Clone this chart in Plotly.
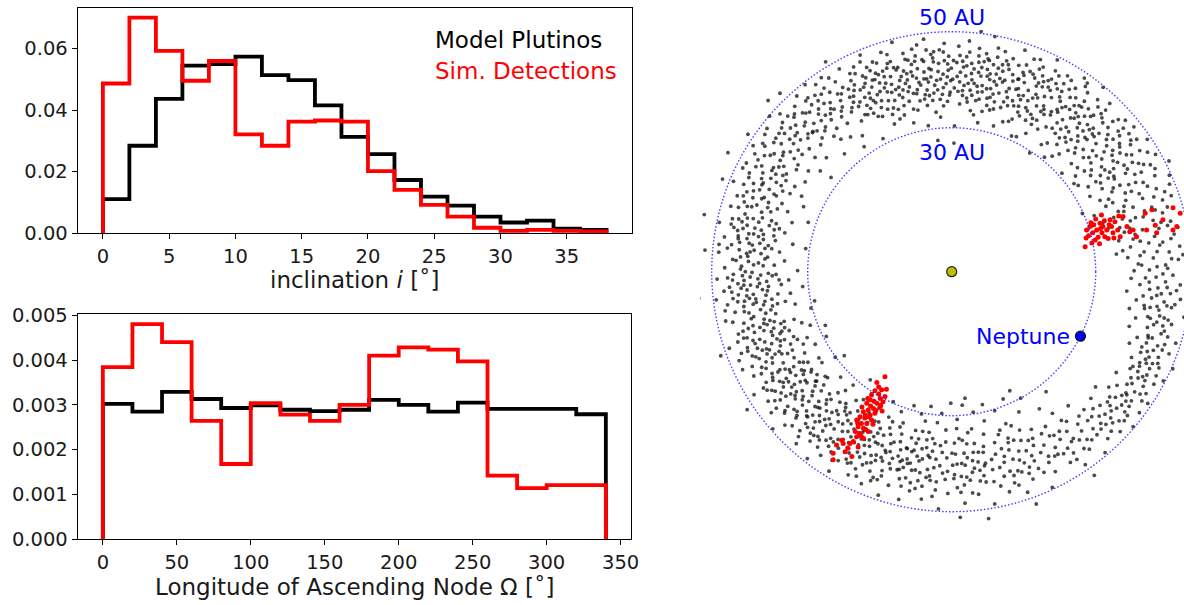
import numpy as np
import plotly.graph_objects as go

# ---------------- data ----------------
INC_BIN_EDGES = list(range(0, 39, 2))  # degrees
INC_MODEL = [0.0111, 0.0284, 0.0436, 0.0544, 0.0549, 0.0573, 0.0513, 0.0497, 0.0415,
             0.0313, 0.0257, 0.0173, 0.0119, 0.0090, 0.0054, 0.0035, 0.0041, 0.0015, 0.0011]
INC_DETECT = [0.0486, 0.0700, 0.0592, 0.0495, 0.0559, 0.0321, 0.0284, 0.0362, 0.0366,
              0.0362, 0.0202, 0.0141, 0.0092, 0.0054, 0.0018, 0.0008, 0.0011, 0.0008, 0.0006]

NODE_BIN_EDGES = list(range(0, 341, 20))  # degrees
NODE_MODEL = [0.00302, 0.00285, 0.00329, 0.00313, 0.00293, 0.00299, 0.00289, 0.00286, 0.00289,
              0.00311, 0.00300, 0.00285, 0.00305, 0.00291, 0.00291, 0.00291, 0.00279]
NODE_DETECT = [0.00384, 0.00480, 0.00440, 0.00264, 0.00168, 0.00304, 0.00278, 0.00264, 0.00300,
               0.00410, 0.00428, 0.00423, 0.00397, 0.00142, 0.00114, 0.00121, 0.00121]

INC_TICKS = [0, 5, 10, 15, 20, 25, 30, 35]
INC_YTICKS = [0.00, 0.02, 0.04, 0.06]
NODE_TICKS = [0, 50, 100, 150, 200, 250, 300, 350]
NODE_YTICKS = [0.000, 0.001, 0.002, 0.003, 0.004, 0.005]

# model plutinos, heliocentric (theta [deg], r [AU]) in Neptune's rotating frame
PLUTINO_POS = [
    (0.5,41.2),(1.8,44.6),(2.4,38.9),(3.1,47.3),(3.9,42.1),(4.6,36.8),(5.2,45.5),(5.9,40.3),(6.7,49.1),(7.3,43.7),(7.9,37.6),(8.6,46.2),
    (9.2,39.8),(9.9,42.9),(10.5,35.4),(11.1,48.0),(11.8,44.1),(12.4,40.7),(13.0,46.8),(13.7,38.2),(14.3,43.3),(2.9,50.2),(6.1,34.5),(12.9,36.9),
    (15.4,33.8),(16.0,41.5),(16.7,46.9),(17.2,37.2),(17.9,43.8),(18.5,35.6),(19.1,48.4),(19.6,40.1),(20.3,44.9),(20.8,38.4),(21.5,31.9),(22.1,46.0),
    (22.6,42.3),(23.2,36.5),(23.9,49.6),(24.4,39.7),(25.0,44.0),(25.7,34.3),(26.2,41.1),(26.9,47.5),(27.4,37.9),(28.0,43.2),(28.6,32.8),(29.2,45.8),
    (29.7,39.0),(18.0,30.6),(24.0,29.8),(27.0,50.8),
    (30.3,42.4),(30.8,36.1),(31.4,47.8),(31.9,33.5),(32.5,40.0),(33.0,44.7),(33.6,38.3),(34.1,49.2),(34.7,35.2),(35.2,42.9),(35.8,31.4),(36.3,46.3),
    (36.9,39.1),(37.4,44.0),(38.0,36.8),(38.5,48.5),(39.1,41.6),(39.6,34.0),(40.2,45.4),(40.7,38.7),(41.3,43.3),(41.8,30.8),(42.4,47.0),(42.9,37.4),
    (43.5,40.9),(44.0,35.6),(44.6,44.2),(32.2,38.9),(36.0,41.3),(39.9,46.6),(43.2,42.1),(37.7,32.6),
    (45.2,39.4),(45.7,44.8),(46.2,35.0),(46.8,48.1),(47.3,41.7),(47.9,37.1),(48.4,45.9),(49.0,31.9),(49.5,42.6),(50.1,38.0),(50.6,49.7),(51.2,35.8),
    (51.7,43.7),(52.3,40.5),(52.8,46.8),(53.4,33.4),(53.9,39.2),(54.5,44.5),(55.0,36.5),(55.6,48.9),(56.1,41.2),(56.7,29.6),(57.2,45.2),(57.8,38.6),
    (58.3,42.8),(58.9,34.7),(59.4,47.4),(47.0,40.1),(49.8,36.6),(52.0,42.0),(54.2,47.6),(56.4,39.9),(58.6,44.0),(51.0,30.7),
    (60.2,41.8),(60.7,36.2),(61.3,46.5),(61.8,32.7),(62.4,43.4),(62.9,38.8),(63.5,49.3),(64.0,35.1),(64.6,40.9),(65.1,45.0),(65.7,37.5),(66.2,30.9),
    (66.8,43.9),(67.3,47.9),(67.9,39.6),(68.4,34.2),(69.0,42.2),(69.5,36.9),(70.1,45.8),(70.6,40.3),(71.2,33.0),(71.7,48.6),(72.3,38.1),(72.8,43.0),
    (73.4,35.7),(73.9,46.2),(74.5,41.4),(61.0,39.5),(63.2,44.6),(65.5,42.5),(68.0,37.2),(70.3,44.1),(72.6,40.0),(74.0,31.6),
    (75.2,38.5),(75.7,43.1),(76.3,47.2),(76.8,34.6),(77.4,40.6),(77.9,45.7),(78.5,36.9),(79.0,42.0),(79.6,49.8),(80.1,31.5),(80.7,39.3),(81.2,44.3),
    (81.8,37.8),(82.3,41.9),(82.9,46.9),(83.4,33.8),(84.0,40.2),(84.5,43.6),(85.1,36.3),(85.6,48.2),(86.2,38.9),(86.7,42.7),(87.3,35.0),(87.8,45.1),
    (88.4,40.7),(88.9,30.4),(89.5,44.0),(76.0,41.5),(78.0,39.0),(80.0,42.8),(82.0,36.0),(84.2,38.0),(86.0,44.9),(88.0,37.6),(89.0,26.8),(83.0,50.4),
    (90.3,39.8),(90.8,44.9),(91.4,35.5),(91.9,47.6),(92.5,41.2),(93.0,37.0),(93.6,43.5),(94.1,32.3),(94.7,46.0),(95.2,39.0),(95.8,42.3),(96.3,35.9),
    (96.9,48.8),(97.4,40.5),(98.0,44.6),(98.5,37.3),(99.1,30.8),(99.6,42.9),(100.2,47.1),(100.7,38.6),(101.3,41.6),(101.8,34.4),(102.4,45.3),(102.9,39.5),
    (103.5,43.0),(104.0,36.6),(104.6,49.4),(91.0,42.0),(93.3,40.2),(95.5,45.5),(97.7,38.2),(99.8,40.0),(101.0,44.0),(103.0,41.0),(96.0,27.5),(104.3,32.0),
    (105.2,41.3),(105.7,37.7),(106.3,45.6),(106.8,34.1),(107.4,42.6),(107.9,48.0),(108.5,39.4),(109.0,44.2),(109.6,36.2),(110.1,40.8),(110.7,46.7),(111.2,33.0),
    (111.8,43.1),(112.3,38.5),(112.9,49.0),(113.4,41.9),(114.0,35.4),(114.5,44.8),(115.1,39.9),(115.6,47.3),(116.2,36.8),(116.7,42.4),(117.3,31.2),(117.8,45.0),
    (118.4,40.2),(118.9,37.4),(119.5,43.7),(106.0,40.0),(108.2,35.6),(110.4,43.8),(112.6,46.1),(114.8,41.0),(117.0,38.9),(119.0,48.3),
    (120.3,42.1),(120.9,36.6),(121.5,46.4),(122.1,39.3),(122.7,44.0),(123.3,33.9),(123.9,48.7),(124.5,40.6),(125.1,37.8),(125.7,43.4),(126.3,45.9),(126.9,35.1),
    (127.5,41.5),(128.1,49.5),(128.7,38.3),(129.3,43.8),(129.9,36.0),(130.5,46.8),(131.1,40.0),(131.7,44.5),(132.3,33.2),(132.9,42.2),(133.5,47.5),(134.1,38.8),
    (134.7,41.1),(121.0,51.0),(125.0,31.8),(128.0,45.2),(131.0,37.4),(133.9,51.6),
    (135.3,43.2),(135.9,38.0),(136.5,47.1),(137.1,40.9),(137.7,35.3),(138.3,45.0),(138.9,41.8),(139.5,49.9),(140.1,37.1),(140.7,43.6),(141.3,46.1),(141.9,39.6),
    (142.5,34.5),(143.1,44.4),(143.7,48.3),(144.3,40.4),(144.9,36.5),(145.5,42.7),(146.1,46.9),(146.7,38.7),(147.3,44.9),(147.9,41.3),(148.5,35.8),(149.1,47.8),
    (149.7,43.0),(137.0,52.3),(142.0,31.9),(146.0,51.2),
    (150.3,40.5),(150.9,45.3),(151.5,37.2),(152.1,48.4),(152.7,42.4),(153.3,35.0),(153.9,44.1),(154.5,39.0),(155.1,46.6),(155.7,41.7),(156.3,33.7),(156.9,43.5),
    (157.5,49.2),(158.1,38.1),(158.7,45.8),(159.3,40.8),(159.9,36.4),(160.5,47.4),(161.1,42.9),(161.7,39.7),(162.3,44.7),(162.9,34.8),(163.5,48.0),(164.1,41.0),
    (164.7,37.9),(152.0,52.8),(158.0,51.5),(161.0,31.6),
    (165.3,44.0),(165.8,39.2),(166.4,47.0),(166.9,35.7),(167.5,42.0),(168.0,49.5),(168.6,37.8),(169.1,45.4),(169.7,40.9),(170.2,33.6),(170.8,43.2),(171.3,47.9),
    (171.9,38.6),(172.4,41.9),(173.0,46.2),(173.5,36.1),(174.1,44.5),(174.6,39.9),(175.2,48.7),(175.7,42.6),(176.3,34.9),(176.8,45.7),(177.4,40.3),(177.9,37.0),
    (178.5,43.8),(179.0,47.3),(179.6,32.1),(167.0,52.9),(171.0,30.8),(175.0,51.6),(168.3,44.4),(173.8,41.4),
    (180.2,41.6),(180.7,45.5),(181.3,37.4),(181.8,48.9),(182.4,43.3),(182.9,34.0),(183.5,40.1),(184.0,46.4),(184.6,38.3),(185.1,42.8),(185.7,31.2),(186.2,44.7),
    (186.8,49.4),(187.3,36.5),(187.9,41.2),(188.4,47.2),(189.0,39.4),(189.5,43.9),(190.1,35.2),(190.6,45.9),(191.2,40.6),(191.7,33.3),(192.3,48.2),(192.8,42.3),
    (193.4,37.7),(193.9,44.6),(194.5,30.3),(181.0,39.8),(184.5,44.0),(187.5,42.5),(190.8,38.0),(193.0,46.8),(186.0,53.0),(192.0,29.2),
    (195.2,42.9),(195.7,38.4),(196.3,46.3),(196.8,34.3),(197.4,41.0),(197.9,44.8),(198.5,36.7),(199.0,49.0),(199.6,39.6),(200.1,43.6),(200.7,31.5),(201.2,47.0),
    (201.8,40.4),(202.3,35.6),(202.9,45.1),(203.4,38.9),(204.0,42.1),(204.5,33.1),(205.1,48.1),(205.6,41.5),(206.2,37.0),(206.7,44.3),(207.3,29.4),(207.8,46.6),
    (208.4,39.9),(208.9,35.0),(209.5,43.0),(196.0,40.0),(199.3,37.5),(202.5,42.7),(205.8,39.3),(208.0,32.2),(203.0,28.6),(200.0,51.2),
    (210.3,40.2),(210.8,45.0),(211.4,36.2),(211.9,48.5),(212.5,42.5),(213.0,33.0),(213.6,39.0),(214.1,44.4),(214.7,37.6),(215.2,46.8),(215.8,41.1),(216.3,30.1),
    (216.9,43.2),(217.4,35.3),(218.0,47.7),(218.5,39.8),(219.1,42.0),(219.6,34.2),(220.2,45.6),(220.7,38.2),(221.3,49.6),(221.8,41.7),(222.4,36.8),(222.9,44.0),
    (223.5,31.9),(224.0,46.2),(224.6,40.0),(211.0,38.4),(213.3,42.0),(215.5,36.0),(217.7,40.9),(219.9,37.1),(222.1,43.4),(224.3,38.7),(218.0,28.4),(214.0,51.4),
    (225.2,42.6),(225.7,37.3),(226.3,45.8),(226.8,34.6),(227.4,40.7),(227.9,48.3),(228.5,43.5),(229.0,31.3),(229.6,38.5),(230.1,46.0),(230.7,41.4),(231.2,35.2),
    (231.8,44.6),(232.3,49.2),(232.9,39.2),(233.4,33.4),(234.0,42.9),(234.5,47.0),(235.1,37.8),(235.6,40.3),(236.2,45.2),(236.7,30.4),(237.3,43.7),(237.8,36.4),
    (238.4,48.8),(238.9,41.6),(239.5,34.0),(226.0,39.5),(228.8,44.7),(231.5,38.0),(234.2,36.2),(237.0,39.7),(239.0,45.9),(233.0,28.2),
    (240.3,41.0),(240.8,36.0),(241.4,45.4),(241.9,32.2),(242.5,39.4),(243.0,47.5),(243.6,43.1),(244.1,34.8),(244.7,38.0),(245.2,44.3),(245.8,29.7),(246.3,41.8),
    (246.9,48.0),(247.4,36.9),(248.0,42.4),(248.5,33.6),(249.1,45.9),(249.6,39.7),(250.2,31.0),(250.7,43.9),(251.3,37.5),(251.8,49.0),(252.4,40.8),(252.9,35.4),
    (253.5,46.4),(254.0,38.6),(254.6,42.8),(241.0,38.2),(243.3,40.5),(245.5,35.9),(247.7,44.9),(250.0,40.1),(252.2,33.1),(254.3,29.0),
    (255.3,40.6),(255.8,44.5),(256.4,35.6),(256.9,48.7),(257.5,38.4),(258.0,30.3),(258.6,42.2),(259.1,46.5),(259.7,33.8),(260.2,40.0),(260.8,44.1),(261.3,28.4),
    (261.9,37.0),(262.4,47.8),(263.0,41.5),(263.5,35.0),(264.1,43.7),(264.6,31.6),(265.2,39.2),(265.7,45.6),(266.3,36.3),(266.8,49.5),(267.4,42.0),(267.9,33.0),
    (268.5,38.8),(269.0,46.2),(269.6,27.4),(257.0,41.0),(260.5,37.4),(263.3,39.0),(266.0,29.6),(268.2,43.3),
    (270.3,40.3),(270.9,35.7),(271.5,45.0),(272.1,30.8),(272.7,42.7),(273.3,48.3),(273.9,37.9),(274.5,27.9),(275.1,43.6),(275.7,33.7),(276.3,39.6),(276.9,46.7),
    (277.5,36.1),(278.1,41.8),(278.7,29.6),(279.3,44.4),(279.9,38.2),(280.5,49.2),(281.1,34.5),(281.7,42.1),(282.3,31.8),(282.9,45.8),(283.5,39.1),(284.1,36.7),
    (284.7,47.4),(272.0,51.2),(276.0,26.5),(280.0,40.5),(283.0,28.4),(278.5,52.0),
    (285.4,41.2),(286.0,35.3),(286.6,45.9),(287.2,30.3),(287.8,39.0),(288.4,43.7),(289.0,48.6),(289.6,33.6),(290.2,37.4),(290.8,42.6),(291.4,46.4),(292.0,28.6),
    (292.6,40.4),(293.2,35.9),(293.8,44.8),(294.4,38.6),(295.0,49.6),(295.6,32.4),(296.2,42.0),(296.8,36.8),(297.4,46.9),(298.0,40.9),(298.6,30.0),(299.2,44.0),
    (290.0,51.5),(296.0,27.6),
    (300.5,42.5),(301.2,37.7),(301.9,46.8),(302.6,33.9),(303.3,44.0),(304.0,40.1),(304.7,48.9),(305.4,36.2),(306.1,43.0),(306.8,46.0),(307.5,39.3),(308.2,31.8),
    (308.9,44.9),(309.6,41.2),(310.3,49.4),(311.0,37.0),(311.7,45.5),(312.4,42.0),(313.1,47.6),(313.8,39.8),(314.5,44.3),(305.0,51.8),
    (315.3,45.2),(315.9,41.0),(316.5,48.4),(317.1,43.6),(317.7,39.2),(318.3,46.7),(318.9,44.1),(319.5,49.7),(320.1,42.3),(320.7,47.3),(321.3,38.4),(321.9,45.0),
    (322.5,43.0),(323.1,48.9),(323.7,40.6),(324.3,46.1),(324.9,44.6),(325.5,41.8),(326.1,49.2),(326.7,45.6),(327.3,43.4),(327.9,47.8),(328.5,40.2),(329.1,46.5),
    (330.3,44.7),(330.9,48.2),(331.5,42.3),(332.1,46.0),(332.7,49.6),(333.3,43.8),(333.9,45.9),(334.5,41.5),(335.1,47.6),(335.7,44.3),(336.3,50.3),(336.9,42.8),
    (337.5,46.6),(338.1,39.9),(338.7,45.1),(339.3,48.4),(339.9,43.2),(340.5,41.0),(341.1,46.9),(341.7,44.0),(342.3,49.0),(342.9,38.7),(343.5,45.5),(344.1,42.4),
    (345.3,43.5),(345.9,39.5),(346.5,47.1),(347.1,41.9),(347.7,45.3),(348.3,37.8),(348.9,49.3),(349.5,43.9),(350.1,40.7),(350.7,46.4),(351.3,38.9),(351.9,44.7),
    (352.5,42.0),(353.1,48.0),(353.7,36.7),(354.3,45.8),(354.9,41.4),(355.5,43.1),(356.1,39.3),(356.7,47.7),(357.3,44.6),(357.9,37.4),(358.5,42.6),(359.1,46.1),
    # second pass over the denser parts of the ring
    (0.9,45.0),(2.0,39.6),(4.2,48.3),(5.6,43.0),(7.0,35.9),(8.3,41.5),(9.6,47.0),(11.5,39.0),(13.3,44.8),(14.7,36.2),
    (15.9,38.7),(16.9,44.3),(17.7,33.0),(18.8,46.4),(19.9,36.9),(21.0,42.6),(21.9,48.9),(23.0,34.9),(24.1,41.0),(25.3,46.8),(26.5,37.3),(27.7,44.6),
    (28.9,35.8),(29.9,49.0),
    (30.5,39.2),(31.2,44.0),(32.0,35.4),(32.8,46.6),(33.4,41.4),(34.3,31.9),(35.0,38.1),(35.6,47.4),(36.6,43.6),(37.2,34.7),(38.2,40.4),(39.0,45.0),
    (39.8,37.2),(40.5,42.4),(41.1,48.0),(42.1,33.6),(43.0,45.9),(44.3,39.4),
    (45.4,42.0),(46.0,37.8),(46.6,45.3),(47.6,33.2),(48.2,43.4),(48.9,39.8),(49.7,47.0),(50.4,34.4),(51.4,40.9),(52.1,45.0),(52.6,37.4),(53.6,43.0),
    (54.3,48.4),(54.8,32.4),(55.4,41.8),(56.0,46.1),(56.9,36.0),(57.5,42.1),(58.1,39.3),(59.2,45.6),
    (60.4,38.9),(61.0,44.8),(61.6,34.9),(62.1,41.3),(62.7,47.1),(63.3,36.7),(63.9,42.9),(64.4,31.2),(65.0,39.9),(65.9,46.7),(66.5,35.4),(67.1,41.0),
    (67.6,44.5),(68.2,38.6),(68.8,47.5),(69.3,33.5),(70.0,40.6),(70.8,42.5),(71.4,36.5),(72.0,45.2),(73.1,39.2),(74.2,43.8),
    (75.4,45.4),(75.9,36.5),(76.5,40.0),(77.1,43.5),(77.6,37.2),(78.2,47.6),(78.8,40.8),(79.3,34.0),(79.9,44.7),(80.4,38.0),(80.9,46.0),(81.5,41.2),
    (82.1,33.0),(82.6,44.0),(83.2,39.5),(83.7,42.5),(84.8,35.5),(85.3,45.9),(85.9,40.9),(86.5,36.8),(87.0,43.9),(87.6,39.6),(88.2,47.0),(89.2,38.3),
    (90.5,37.4),(91.1,43.3),(91.7,39.2),(92.2,45.8),(92.8,34.6),(93.9,41.8),(94.4,38.0),(95.0,43.9),(95.6,33.4),(96.1,40.8),(96.6,46.5),(97.2,37.0),
    (97.9,42.0),(98.3,35.0),(98.8,47.8),(99.4,39.4),(100.0,44.5),(100.5,36.2),(101.5,42.5),(102.1,38.0),(102.6,46.6),(103.2,34.8),(103.8,40.4),(104.8,44.0),
    (105.4,43.6),(106.0,36.0),(106.6,47.2),(107.1,39.7),(107.7,44.5),(108.7,33.6),(109.3,41.6),(109.8,46.2),(110.3,38.0),(110.9,42.1),(111.5,36.4),(112.1,45.2),
    (112.8,40.0),(113.6,47.7),(114.2,38.6),(114.7,43.2),(115.3,35.8),(116.0,45.9),(116.5,40.6),(117.5,43.9),(118.1,37.1),(119.2,41.9),
    (120.6,44.6),(121.3,40.0),(122.4,47.8),(123.0,42.5),(124.2,45.2),(125.4,39.6),(126.0,48.2),(126.6,42.3),(127.8,46.5),(128.4,40.4),(129.6,47.0),(130.2,43.0),
    (131.4,48.8),(132.0,39.5),(133.2,45.4),(134.4,43.6),
    (135.6,46.0),(136.2,41.5),(137.4,48.6),(138.0,43.3),(139.2,39.2),(139.8,46.4),(141.0,42.4),(142.2,48.7),(143.4,41.9),(144.0,45.8),(145.2,39.0),(146.4,44.4),
    (147.6,49.0),(148.8,42.1),
    (150.6,43.0),(151.2,39.4),(151.8,46.3),(153.0,41.0),(153.6,48.6),(154.2,37.4),(154.8,43.4),(156.0,45.2),(156.6,39.8),(157.2,47.0),(158.4,42.0),(159.6,44.2),
    (160.2,38.6),(161.4,45.6),(162.6,41.5),(164.4,44.7),
    (165.6,41.5),(166.1,45.7),(166.7,38.0),(167.2,43.7),(167.8,47.0),(168.8,40.0),(169.4,43.0),(170.0,37.3),(170.5,45.1),(171.6,40.4),(172.1,44.6),(172.7,37.8),
    (173.3,48.8),(174.4,42.2),(175.5,38.5),(176.0,44.1),(177.1,42.4),(178.2,39.3),
    (180.5,38.2),(181.1,43.6),(181.6,46.7),(182.1,40.4),(182.7,36.0),(183.2,44.6),(183.8,42.0),(184.3,35.6),(184.9,47.6),(185.4,39.6),(186.5,41.6),(187.0,45.9),
    (187.6,33.9),(188.1,43.6),(188.7,37.9),(189.3,41.9),(189.8,47.9),(190.4,36.9),(191.5,43.1),(192.6,39.7),
    (195.4,40.6),(195.9,45.2),(196.5,36.4),(197.1,43.0),(197.6,38.9),(198.2,46.9),(198.8,33.0),(199.4,42.4),(199.9,36.0),(200.4,45.4),(201.0,39.0),(201.5,43.5),
    (202.1,37.6),(202.7,48.0),(203.2,41.3),(203.7,35.1),(204.3,44.0),(204.8,39.6),(205.4,46.0),(206.0,34.4),(207.0,41.9),(208.2,45.0),
    (210.5,43.3),(211.1,39.5),(211.7,46.1),(212.2,35.4),(212.8,41.0),(213.4,44.9),(213.9,37.0),(214.4,42.5),(215.0,33.0),(215.6,40.3),(216.1,45.6),(216.6,38.0),
    (217.2,42.1),(217.9,46.3),(218.8,36.4),(219.4,44.2),(220.0,40.4),(220.5,34.0),(221.1,43.6),(221.6,38.9),(222.6,47.2),(223.8,41.9),
    (225.4,39.7),(226.1,43.9),(226.6,36.6),(227.1,46.9),(227.7,42.3),(228.2,33.2),(229.3,40.6),(229.9,44.6),(230.4,37.6),(231.0,42.7),(232.0,35.9),(232.6,46.0),
    (233.2,40.9),(233.7,37.0),(234.8,44.5),(235.4,32.4),(235.9,42.2),(236.5,38.0),(237.6,46.5),(238.6,40.3),
    (240.5,43.4),(241.1,37.7),(241.7,41.0),(242.2,45.0),(242.8,35.0),(243.9,39.0),(244.4,42.0),(245.0,47.0),(245.9,38.9),(246.6,33.0),(247.1,43.2),(248.2,39.0),
    (248.8,46.7),(249.4,36.2),(249.9,42.0),(250.5,38.0),(251.0,45.0),(251.6,34.1),(252.7,43.0),(253.8,40.0),
    (255.6,37.9),(256.1,42.0),(256.7,45.9),(257.2,33.9),(257.8,40.8),(258.3,36.5),(258.9,44.8),(259.4,39.1),(260.0,31.6),(261.0,42.4),(261.6,35.4),(262.1,45.1),
    (262.7,38.6),(263.8,42.8),(264.4,36.0),(265.0,47.0),(266.5,40.5),(268.0,35.5),
    (270.6,43.1),(271.2,38.0),(271.8,32.7),(272.4,46.0),(273.0,40.0),(273.6,35.2),(274.2,42.9),(274.8,38.9),(275.4,46.3),(276.6,41.2),(277.2,33.0),(277.8,44.0),
    (278.4,38.0),(279.6,41.0),(281.4,44.6),(283.8,42.0),
    (285.7,38.3),(286.3,43.3),(286.9,34.5),(287.5,46.6),(288.1,41.1),(288.7,36.6),(289.3,44.2),(290.5,39.9),(291.1,34.4),(291.7,43.8),(293.5,41.8),(294.7,46.0),
    (295.9,38.6),(297.7,43.4),
    (300.8,39.8),(301.6,44.5),(302.9,41.6),(303.7,47.0),(305.2,43.3),(306.4,38.5),(307.8,46.8),(309.2,42.8),(311.4,40.1),(313.5,45.2),
    (315.6,43.0),(316.8,46.0),(318.0,41.6),(319.2,47.5),(320.4,44.6),(321.6,42.0),(322.8,46.4),(324.0,43.8),(325.8,47.9),(328.2,44.2),
    (330.6,46.2),(331.8,44.0),(333.0,47.8),(334.2,43.5),(335.4,46.0),(336.6,44.8),(338.4,42.6),(339.6,46.8),(341.4,43.2),(343.2,47.0),
    (345.6,45.4),(346.8,42.5),(348.0,44.3),(349.2,40.9),(350.4,43.4),(351.6,47.0),(352.8,40.2),(354.0,43.9),(355.8,45.0),(358.2,40.4),
    # third pass, mid-ring
    (0.3,38.0),(1.4,42.8),(3.4,45.9),(4.9,39.4),(6.4,47.8),(8.0,44.4),(10.2,38.4),(12.1,46.0),
    (15.6,45.6),(16.4,39.9),(17.5,42.1),(19.3,38.0),(20.6,47.4),(22.3,39.2),(23.6,44.5),(24.8,36.0),(25.9,42.6),(27.2,39.4),(28.3,47.0),(29.5,41.6),
    (30.1,45.0),(30.9,38.0),(31.7,42.2),(32.9,36.9),(33.8,43.8),(34.5,40.8),(35.4,45.7),(36.1,36.0),(37.0,42.0),(37.9,46.8),(38.7,38.6),(39.4,43.5),
    (40.9,36.3),(41.6,40.2),(42.7,44.3),(44.4,41.0),
    (45.0,36.5),(45.9,41.2),(46.4,46.5),(47.1,38.6),(47.8,44.0),(48.6,36.0),(49.3,40.8),(50.0,44.3),(50.8,41.7),(51.6,38.4),(52.5,43.6),(53.2,36.0),
    (54.0,41.8),(54.7,38.0),(55.8,43.9),(57.0,40.3),(58.0,47.0),(59.6,38.0),
    (60.0,44.0),(60.9,38.2),(61.5,43.0),(62.2,36.1),(62.6,45.2),(63.7,40.4),(64.2,44.0),(64.8,37.0),(65.3,43.3),(66.0,39.0),(66.6,46.0),(67.5,36.0),
    (68.6,44.8),(69.2,39.3),(69.8,43.6),(70.4,37.8),(71.0,42.4),(72.2,41.7),(73.0,37.0),(74.7,44.7),
    (75.0,40.9),(75.6,35.0),(76.2,44.4),(76.9,38.0),(77.3,42.2),(78.1,35.4),(78.6,44.0),(79.2,38.8),(79.7,41.4),(80.3,45.0),(81.0,36.4),(81.6,43.0),
    (82.2,39.0),(82.8,45.3),(83.5,37.0),(84.3,41.5),(85.0,39.4),(85.8,43.0),(86.6,37.8),(87.5,41.6),(88.6,43.6),(89.7,40.1),
    (90.1,42.4),(90.7,36.8),(91.3,40.6),(92.0,44.0),(92.6,38.4),(93.2,46.3),(93.8,36.0),(94.5,40.0),(95.1,44.7),(95.7,37.4),(96.4,42.6),(97.0,39.8),
    (97.6,44.2),(98.2,40.6),(98.9,36.4),(99.6,45.6),(100.3,41.0),(101.1,37.8),(101.7,45.0),(102.8,42.3),(103.6,38.6),(104.5,42.0),
    (105.0,39.2),(105.9,44.2),(106.5,38.4),(107.2,45.4),(107.8,41.0),(108.4,37.6),(109.1,43.0),(109.7,39.8),(110.6,35.0),(111.0,44.3),(111.7,40.4),(112.5,43.2),
    (113.2,37.2),(113.9,44.2),(114.6,39.2),(115.5,42.6),(116.4,38.0),(117.2,46.4),(118.3,42.9),(119.4,39.5),
    (120.1,40.8),(121.8,43.6),(123.6,41.2),(124.8,46.6),(125.9,41.8),(127.2,44.0),(128.9,41.9),(130.0,45.4),(130.8,41.6),(132.6,44.9),(133.7,40.6),(134.9,46.4),
    (135.0,41.0),(136.8,44.6),(138.6,47.0),(139.0,43.2),(140.4,45.2),(141.6,40.8),(142.8,46.0),(144.6,43.0),(145.8,47.6),(147.0,42.6),(148.2,45.9),(149.4,40.0),
    (150.0,46.6),(151.0,41.9),(152.4,44.4),(153.2,39.8),(154.0,46.9),(155.4,43.5),(156.4,40.4),(157.8,44.6),(159.0,42.4),(160.0,46.2),(160.8,40.6),(162.0,43.8),
    (163.2,46.4),(164.2,39.0),
    (165.0,42.8),(166.0,37.0),(166.6,44.9),(167.7,40.6),(168.5,46.3),(169.2,42.0),(170.3,39.8),(171.2,45.0),(172.0,42.6),(172.9,39.2),(174.0,47.0),(174.9,42.9),
    (176.1,39.0),(177.0,45.0),(178.0,41.3),(179.3,44.0),
    (180.0,43.0),(180.9,36.6),(181.5,42.0),(182.2,45.7),(183.0,38.6),(183.7,43.4),(184.4,40.6),(185.3,46.0),(185.9,38.6),(186.7,43.0),(187.2,39.0),(188.0,45.0),
    (188.9,41.2),(190.0,39.8),(190.9,44.0),(191.9,38.5),(193.2,42.9),(194.2,40.3),
    (195.0,39.2),(195.6,44.0),(196.2,41.6),(196.9,37.2),(197.7,45.5),(198.4,39.6),(199.1,43.8),(199.8,38.0),(200.6,41.6),(201.3,45.6),(202.0,38.5),(202.6,41.8),
    (203.5,44.5),(204.2,36.8),(205.0,40.6),(205.9,43.0),(206.5,38.2),(207.5,43.6),(208.6,37.4),(209.7,41.2),
    (210.0,41.8),(210.7,36.9),(211.3,43.6),(212.0,39.6),(212.7,45.7),(213.2,37.4),(214.0,41.0),(214.9,35.6),(215.4,43.6),(216.0,39.0),(216.8,44.6),(217.5,38.0),
    (218.3,41.6),(219.0,36.2),(219.8,45.2),(220.6,41.0),(221.5,35.6),(222.2,40.2),(223.2,44.5),(224.8,42.6),
    (225.0,36.0),(225.9,41.6),(226.5,38.0),(227.2,44.2),(228.0,39.0),(228.6,41.6),(229.4,35.8),(230.2,39.9),(230.9,44.2),(231.6,40.6),(232.5,36.6),(233.3,43.8),
    (234.4,39.0),(235.2,43.2),(236.0,35.0),(237.1,41.6),(238.2,38.6),(239.3,42.6),
    (240.0,38.8),(240.6,44.8),(241.6,39.6),(242.4,42.4),(243.2,37.4),(244.0,45.7),(244.8,40.2),(245.4,37.0),(246.0,43.6),(246.8,39.0),(247.6,41.3),(248.4,35.0),
    (249.2,41.4),(250.3,46.0),(251.1,39.6),(252.0,42.0),(253.2,37.0),(254.8,41.0),
    (255.1,42.6),(255.9,38.0),(256.6,40.1),(257.4,44.0),(258.1,38.0),(258.8,35.5),(259.6,42.0),(260.4,45.8),(261.1,39.5),(262.0,33.8),(262.9,43.2),(263.9,37.6),
    (264.8,41.0),(265.8,43.9),(267.0,37.7),(268.8,41.6),
    (270.1,37.8),(270.8,42.3),(271.6,40.1),(272.5,34.8),(273.4,44.5),(274.0,40.4),(275.0,36.0),(275.9,42.0),(276.8,37.9),(277.9,40.0),(279.0,43.0),(280.3,37.0),
    (282.0,40.0),(284.4,44.0),
    (285.9,40.0),(287.0,44.4),(288.3,37.5),(289.8,41.7),(291.0,45.0),(292.3,38.0),(293.6,43.0),(295.2,40.0),(297.0,44.6),(299.0,38.6),
    (300.2,44.0),(302.0,40.2),(303.9,45.5),(305.8,41.0),(307.2,44.0),(309.8,45.6),(312.0,44.0),(314.0,42.0),
    (315.0,47.0),(317.4,45.0),(319.8,43.2),(321.0,46.4),(323.4,45.2),(325.2,44.2),(327.0,46.8),(329.4,43.4),
    (331.2,45.4),(332.4,42.6),(334.8,44.8),(336.0,47.0),(337.8,44.0),(340.2,45.6),(342.0,43.0),(344.4,46.0),
    (346.2,44.0),(347.4,46.2),(349.8,42.0),(351.0,45.4),(353.4,43.0),(355.2,47.0),(357.0,41.2),(359.4,44.0),
]

# simulated detections, heliocentric (x, y) [AU]
DETECT_X = [27.8, 28.1, 28.8, 29.4, 29.9, 30.2, 30.9, 31.3, 31.5, 31.9, 32.3, 33.0, 33.3, 33.6, 34.0, 34.6,
            35.1, 35.7, 36.5, 37.1, 37.8, 38.5, 40.3, 40.6, 41.7, 42.4, 42.7, 44.0, 46.1, 46.1, 46.9, 47.6,
            28.5, 29.0, 29.6, 30.5, 30.8, 31.0, 31.8, 29.2, 32.6, 28.0, 30.0, 32.8, 31.2, 34.8, 33.8,
            -13.9, -15.6, -14.6, -13.9, -14.9, -16.7, -17.0, -17.7, -15.6, -14.9, -16.3, -17.4, -18.4, -16.0,
            -17.0, -19.1, -18.1, -19.8, -16.7, -18.8, -17.7, -19.5, -18.4, -17.4, -19.1, -19.8, -18.4, -20.5,
            -19.5, -21.2, -22.6, -24.0, -22.2, -24.7, -20.8, -24.7, -22.9, -20.1, -14.3,
            -16.2, -15.2, -16.9, -18.0, -17.5, -15.8, -18.7, -16.4, -17.9, -14.5, -19.6, -15.2, -16.0, -13.6,
            -18.9, -21.6, -17.3, -14.8]
DETECT_Y = [5.2, 8.7, 9.4, 8.1, 6.6, 8.7, 10.1, 8.1, 9.4, 7.3, 8.7, 10.8, 9.4, 8.1, 10.4, 8.7,
            7.3, 11.5, 9.4, 8.3, 8.7, 7.3, 12.2, 8.7, 12.9, 9.7, 8.1, 10.8, 13.3, 8.7, 9.4, 12.2,
            7.5, 10.2, 9.8, 7.2, 5.8, 9.0, 10.6, 6.0, 6.9, 7.0, 11.0, 9.8, 11.8, 11.6, 7.0,
            -21.9, -23.1, -24.6, -26.0, -26.4, -25.7, -26.7, -27.4, -27.4, -28.1, -28.5, -28.8, -29.2, -29.5,
            -29.9, -30.2, -30.5, -30.9, -30.9, -31.6, -31.6, -32.3, -32.6, -33.3, -33.7, -34.4, -34.7, -35.4,
            -36.5, -35.8, -35.8, -36.1, -37.5, -37.8, -38.5, -39.2, -35.1, -33.3, -27.1,
            -27.0, -25.5, -28.0, -29.9, -26.4, -28.9, -28.2, -31.8, -32.9, -29.0, -31.5, -24.0, -24.8, -24.5,
            -34.2, -36.8, -30.2, -27.8]

REF_RADII = [30, 50]          # AU, dotted reference circles
REF_LABELS = ["30 AU", "50 AU"]
SUN_POS = (0.0, 0.0)
NEPTUNE_R, NEPTUNE_THETA = 30.0, -26.6   # AU, deg

# ---------------- helpers ----------------
def step_xy(edges, vals):
    xs = [edges[0]] + list(edges[:-1]) + [edges[-1]]
    ys = [0] + list(vals) + [0]
    return xs, ys

W, H = 1184, 605
FONT = "DejaVu Sans"
TXT = "#1a1a1a"
SCALE = 4.8            # px per AU in the orbit panel
SUN_PX = (951.7, 271.7)

def px_x(p):
    return p / W

def px_y(p):
    return 1 - p / H

fig = go.Figure()

for vals, col in [(INC_MODEL, "black"), (INC_DETECT, "#ff0000")]:
    xs, ys = step_xy(INC_BIN_EDGES, vals)
    fig.add_trace(go.Scatter(x=xs, y=ys, mode="lines", line=dict(color=col, width=3.8, shape="hv"),
                             xaxis="x", yaxis="y", showlegend=False, hoverinfo="skip"))

for vals, col in [(NODE_MODEL, "black"), (NODE_DETECT, "#ff0000")]:
    xs, ys = step_xy(NODE_BIN_EDGES, vals)
    fig.add_trace(go.Scatter(x=xs, y=ys, mode="lines", line=dict(color=col, width=3.8, shape="hv"),
                             xaxis="x2", yaxis="y2", showlegend=False, hoverinfo="skip"))

th = np.radians([p[0] for p in PLUTINO_POS])
rr = np.array([p[1] for p in PLUTINO_POS])
fig.add_trace(go.Scatter(x=rr * np.cos(th), y=rr * np.sin(th), mode="markers",
                         marker=dict(color="rgba(15,15,15,0.75)", size=3.8, line=dict(width=0)),
                         xaxis="x3", yaxis="y3", showlegend=False, hoverinfo="skip"))
fig.add_trace(go.Scatter(x=DETECT_X, y=DETECT_Y, mode="markers",
                         marker=dict(color="#ff0000", size=5, line=dict(width=0)),
                         xaxis="x3", yaxis="y3", showlegend=False, hoverinfo="skip"))
fig.add_trace(go.Scatter(x=[SUN_POS[0]], y=[SUN_POS[1]], mode="markers",
                         marker=dict(color="#bfbf00", size=10, line=dict(color="#222222", width=1.2)),
                         xaxis="x3", yaxis="y3", showlegend=False, hoverinfo="skip"))
nx = NEPTUNE_R * np.cos(np.radians(NEPTUNE_THETA))
ny = NEPTUNE_R * np.sin(np.radians(NEPTUNE_THETA))
fig.add_trace(go.Scatter(x=[nx], y=[ny], mode="markers",
                         marker=dict(color="#0000ff", size=10, line=dict(color="#111111", width=1.2)),
                         xaxis="x3", yaxis="y3", showlegend=False, hoverinfo="skip"))

shapes = []
for r in REF_RADII:
    shapes.append(dict(type="circle", xref="x3", yref="y3", x0=-r, y0=-r, x1=r, y1=r,
                       line=dict(color="rgba(30,30,255,0.85)", width=1.4, dash="1.5px,2px")))

annotations = []
# "50 AU" sits above its circle, "30 AU" just inside its circle
for r, lab, shift in zip(REF_RADII, REF_LABELS, [-24.4, 14.4]):
    annotations.append(dict(x=0, y=r, xref="x3", yref="y3", text=lab, showarrow=False,
                            xanchor="center", yanchor="middle", yshift=shift,
                            font=dict(family=FONT, size=22, color="#0000ff")))
annotations.append(dict(x=nx, y=ny, xref="x3", yref="y3", text="Neptune", showarrow=False,
                        xanchor="right", yanchor="middle", xshift=-8,
                        font=dict(family=FONT, size=22, color="#0000ff")))
annotations.append(dict(x=px_x(433), y=px_y(39.5), xref="paper", yref="paper", text="Model Plutinos",
                        showarrow=False, xanchor="left", yanchor="middle",
                        font=dict(family=FONT, size=23, color="black")))
annotations.append(dict(x=px_x(433), y=px_y(71), xref="paper", yref="paper", text="Sim. Detections",
                        showarrow=False, xanchor="left", yanchor="middle",
                        font=dict(family=FONT, size=23, color="#ff0000")))
annotations.append(dict(x=px_x(354.5), y=px_y(280), xref="paper", yref="paper",
                        text="inclination <i>i</i> [˚]", showarrow=False, xanchor="center", yanchor="middle",
                        font=dict(family=FONT, size=23, color=TXT)))
annotations.append(dict(x=px_x(354.8), y=px_y(587), xref="paper", yref="paper",
                        text="Longitude of Ascending Node Ω [˚]", showarrow=False, xanchor="center",
                        yanchor="middle", font=dict(family=FONT, size=23, color=TXT)))

axis_common = dict(showgrid=False, zeroline=False, showline=True, linecolor="black", linewidth=1.1,
                   mirror=True, ticks="outside", ticklen=5, tickwidth=1.1, tickcolor="black",
                   tickfont=dict(family=FONT, size=19.5, color=TXT))

fig.update_layout(
    width=W, height=H, margin=dict(l=0, r=0, t=0, b=0, pad=0, autoexpand=False),
    paper_bgcolor="white", plot_bgcolor="white", showlegend=False,
    xaxis=dict(domain=[px_x(77.7), px_x(631.7)], range=[-1.9, 39.9], tickvals=INC_TICKS,
               anchor="y", **axis_common),
    yaxis=dict(domain=[px_y(233.3), px_y(8.3)], range=[0, 0.0730], tickvals=INC_YTICKS,
               tickformat=".2f", anchor="x", **axis_common),
    xaxis2=dict(domain=[px_x(77.7), px_x(631.0)], range=[-17, 357], tickvals=NODE_TICKS,
                anchor="y2", **axis_common),
    yaxis2=dict(domain=[px_y(539.3), px_y(314.3)], range=[0, 0.00502], tickvals=NODE_YTICKS,
                tickformat=".3f", anchor="x2", **axis_common),
    xaxis3=dict(domain=[px_x(700), 1], range=[(700 - SUN_PX[0]) / SCALE, (W - SUN_PX[0]) / SCALE],
                visible=False, anchor="y3"),
    yaxis3=dict(domain=[0, 1], range=[(SUN_PX[1] - H) / SCALE, SUN_PX[1] / SCALE], visible=False, anchor="x3"),
    shapes=shapes, annotations=annotations,
)

fig.write_html("out.html", config={"displayModeBar": False})
